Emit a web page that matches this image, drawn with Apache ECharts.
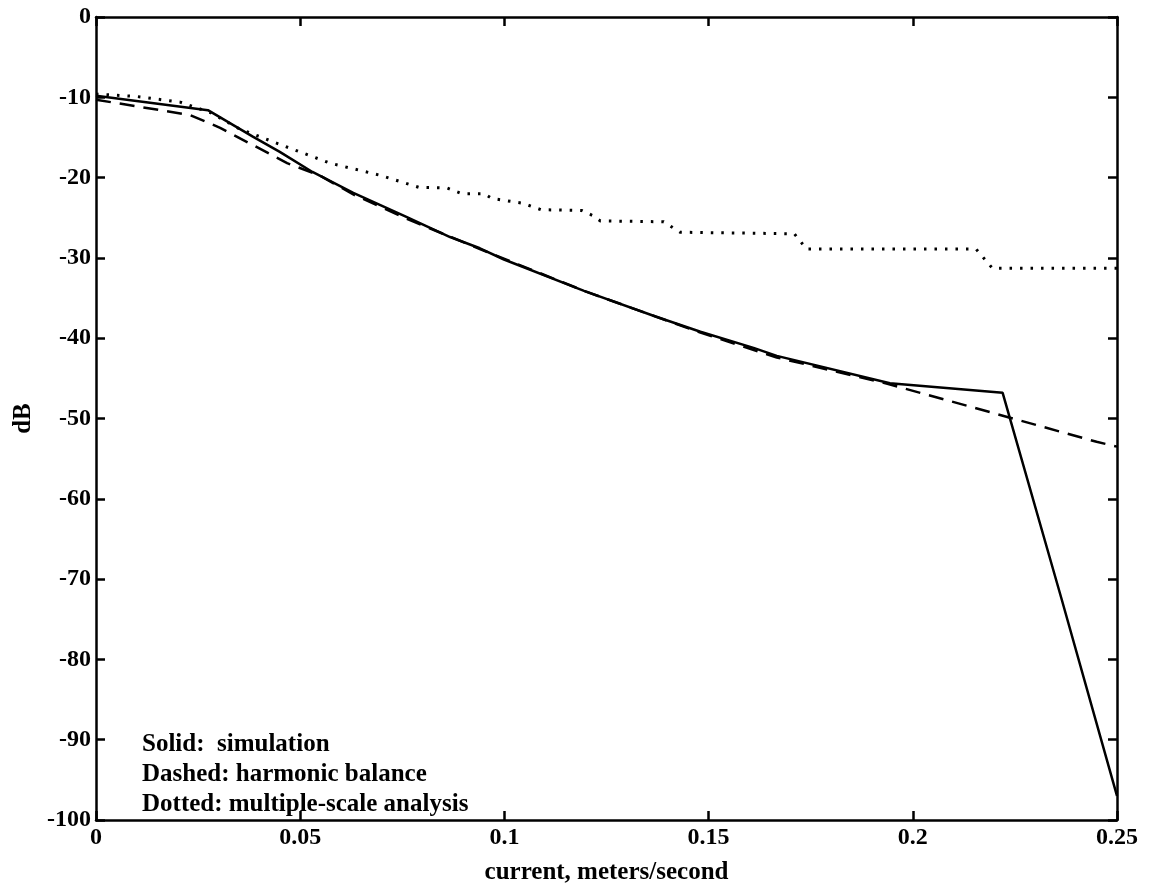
<!DOCTYPE html>
<html>
<head>
<meta charset="utf-8">
<script src="https://cdn.jsdelivr.net/npm/echarts@6/dist/echarts.min.js"></script>
<style>
html,body{margin:0;padding:0;background:#fff;}
#chart{width:1149px;height:890px;}
</style>
</head>
<body>
<div id="chart"></div>
<script>
// Data
const xTicks = [0, 0.05, 0.1, 0.15, 0.2, 0.25];
const yTicks = [0, -10, -20, -30, -40, -50, -60, -70, -80, -90, -100];

const simulationX = [0, 0.0274, 0.0384, 0.045, 0.053, 0.063, 0.076, 0.0867, 0.094, 0.0999, 0.1195, 0.137, 0.148, 0.161, 0.1667, 0.1944, 0.222, 0.2365, 0.25];
const simulationY = [-9.8, -11.6, -14.9, -16.8, -19.3, -21.9, -24.9, -27.4, -28.8, -30.2, -34.1, -37.3, -39.2, -41.2, -42.2, -45.6, -46.8, -72.6, -97.0];

const harmonicX = [0, 0.023, 0.0304, 0.0468, 0.055, 0.063, 0.076, 0.094, 0.12, 0.148, 0.1667, 0.194, 0.2238, 0.245, 0.25];
const harmonicY = [-10.3, -12.2, -13.8, -18.2, -19.8, -22.1, -25.1, -28.9, -34.2, -39.3, -42.4, -45.7, -49.9, -52.9, -53.5];

const multiscaleX = [0, 0.01, 0.0206, 0.028, 0.035, 0.0452, 0.0573, 0.0695, 0.079, 0.086, 0.0896, 0.095, 0.097, 0.1045, 0.109, 0.119, 0.1215, 0.1235, 0.139, 0.143, 0.171, 0.174, 0.2155, 0.2195, 0.25];
const multiscaleY = [-9.6, -9.9, -10.6, -11.9, -13.9, -15.9, -18.2, -19.7, -21.2, -21.3, -22.0, -22.0, -22.6, -23.2, -24.0, -24.1, -24.7, -25.4, -25.5, -26.8, -27.0, -28.9, -28.9, -31.3, -31.3];

const legendLines = ['Solid:  simulation', 'Dashed: harmonic balance', 'Dotted: multiple-scale analysis'];

const pairs = (xs, ys) => xs.map((x, i) => [x, ys[i]]);

const font = '"Liberation Serif", "DejaVu Serif", serif';
const chart = echarts.init(document.getElementById('chart'));

const axisCommon = {
  axisLine: { show: true, onZero: false, lineStyle: { color: '#000', width: 2.5 } },
  axisTick: { show: true, inside: true, length: 9, lineStyle: { color: '#000', width: 2.5 } },
  splitLine: { show: false }
};

chart.setOption({
  backgroundColor: '#fff',
  animation: false,
  grid: { left: 96, right: 32, top: 17, bottom: 70, containLabel: false, outerBoundsMode: 'none' },
  xAxis: [
    Object.assign({
      type: 'value', min: 0, max: 0.25, interval: 0.05, position: 'bottom',
      name: 'current, meters/second', nameLocation: 'middle', nameGap: 40,
      nameTextStyle: { fontFamily: font, fontSize: 25, fontWeight: 'bold', color: '#000' },
      axisLabel: { fontFamily: font, fontSize: 24, fontWeight: 'bold', color: '#000', margin: 6,
        formatter: v => String(xTicks.find(t => Math.abs(t - v) < 1e-9) ?? v) }
    }, axisCommon),
    Object.assign({
      type: 'value', min: 0, max: 0.25, interval: 0.05, position: 'top',
      axisLabel: { show: false }
    }, axisCommon)
  ],
  yAxis: [
    Object.assign({
      type: 'value', min: -100, max: 0, interval: 10, position: 'left',
      name: 'dB', nameLocation: 'middle', nameGap: 60, nameRotate: 90,
      nameTextStyle: { fontFamily: font, fontSize: 25, fontWeight: 'bold', color: '#000' },
      axisLabel: { fontFamily: font, fontSize: 24, fontWeight: 'bold', color: '#000', margin: 5,
        formatter: v => String(yTicks.find(t => Math.abs(t - v) < 1e-9) ?? v) }
    }, axisCommon),
    Object.assign({
      type: 'value', min: -100, max: 0, interval: 10, position: 'right',
      axisLabel: { show: false }
    }, axisCommon)
  ],
  series: [
    {
      name: 'simulation', type: 'line', data: pairs(simulationX, simulationY),
      showSymbol: false, symbol: 'none', z: 3,
      lineStyle: { color: '#000', width: 2.5, type: 'solid' }
    },
    {
      name: 'harmonic balance', type: 'line', data: pairs(harmonicX, harmonicY),
      showSymbol: false, symbol: 'none', z: 2,
      lineStyle: { color: '#000', width: 2.5, type: [15, 9] }
    },
    {
      name: 'multiple-scale analysis', type: 'line', data: pairs(multiscaleX, multiscaleY),
      showSymbol: false, symbol: 'none', z: 2,
      lineStyle: { color: '#000', width: 3, type: [2.5, 8], cap: 'butt' }
    }
  ],
  graphic: legendLines.map((t, i) => ({
    type: 'text', x: 142, y: 745 + i * 30,
    style: { text: t, font: 'bold 25px ' + font, fill: '#000', textVerticalAlign: 'middle', verticalAlign: 'middle' }
  }))
});
</script>
</body>
</html>
